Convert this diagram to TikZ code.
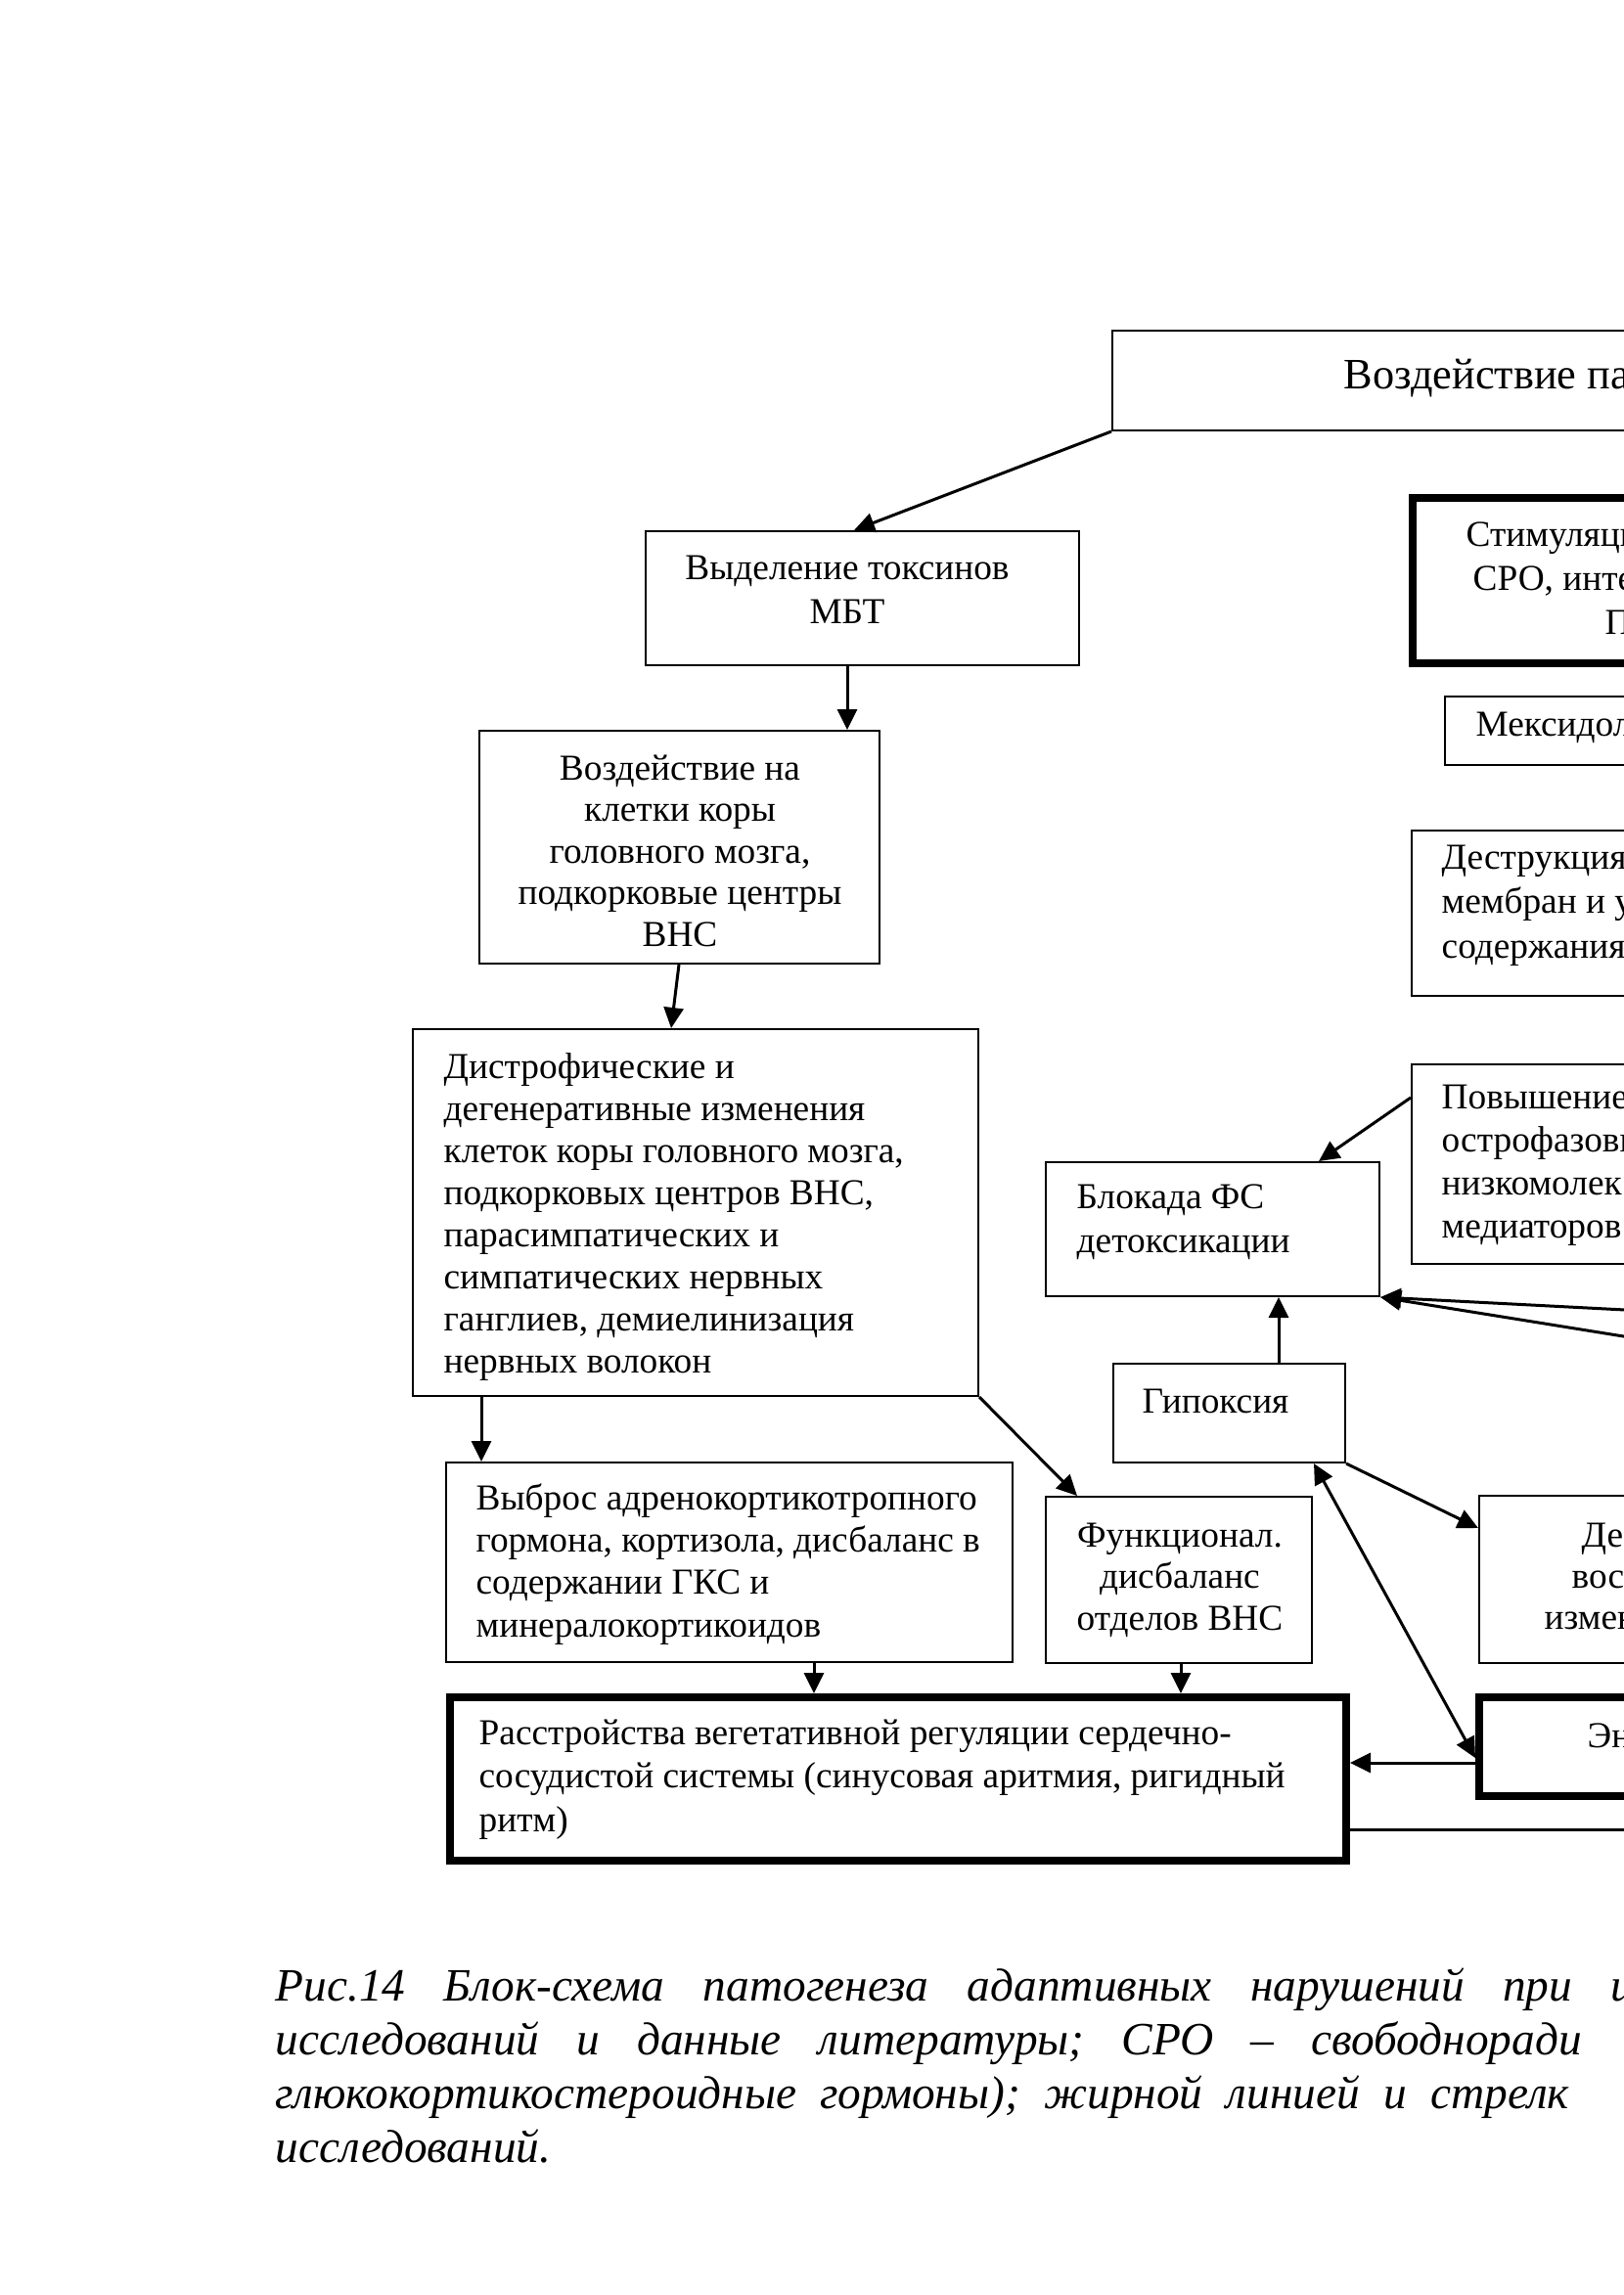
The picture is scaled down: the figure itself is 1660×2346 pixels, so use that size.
\documentclass[tikz,border=0pt]{standalone}
\usepackage{fontspec}
\setmainfont{Liberation Serif}
\usetikzlibrary{arrows.meta,fit,calc}
\begin{document}
\begin{tikzpicture}[x=0.3pt,y=-0.3pt,
  box/.style={draw,line width=0.6pt,inner sep=0pt,rectangle},
  thickbox/.style={draw,line width=2.4pt,inner sep=0pt,rectangle},
  arr/.style={-{Triangle[length=6.3pt,width=6pt]},line width=0.9pt},
  darr/.style={{Triangle[length=6.3pt,width=6pt]}-{Triangle[length=6.3pt,width=6pt]},line width=0.9pt},
  plain/.style={line width=0.9pt},
  txt/.style={font=\fontsize{11.2}{12.9}\selectfont,inner sep=0pt,anchor=base west,align=left},
  ctxt/.style={font=\fontsize{11.2}{12.75}\selectfont,inner sep=0pt,anchor=base,align=center},
  captxt/.style={font=\fontsize{14.2}{16}\selectfont\itshape,inner sep=0pt,anchor=base west}]
\useasboundingbox (0,0) rectangle (1660,2346);
\fill[white] (0,0) rectangle (1660,2346);
\clip (0,0) rectangle (1660,2346);

% boxes
\node[box,fit={(1137,338) (1720,440)}] (top) {};
\node[box,fit={(660,543) (1103,680)}] (vydel) {};
\node[box,fit={(490,747) (899,985)}] (vozd) {};
\node[box,fit={(422,1052) (1000,1427)}] (distr) {};
\node[box,fit={(456,1495) (1035,1699)}] (vybros) {};
\node[box,fit={(1069,1530) (1341,1700)}] (funk) {};
\node[thickbox,fit={(460,1735) (1376,1902)}] (rasstr) {};
\node[thickbox,fit={(1444,509) (1720,678)}] (stim) {};
\node[box,fit={(1477,712) (1720,782)}] (meks) {};
\node[box,fit={(1443,849) (1720,1018)}] (destr) {};
\node[box,fit={(1443,1088) (1720,1292)}] (povysh) {};
\node[box,fit={(1069,1188) (1410,1325)}] (blok) {};
\node[box,fit={(1138,1394) (1375,1495)}] (gipox) {};
\node[box,fit={(1512,1529) (1720,1700)}] (de) {};
\node[thickbox,fit={(1512,1735) (1720,1836)}] (en) {};

% texts (multi-line nodes are placed by the baseline of their last line)
\node[txt,font=\fontsize{13.3}{15}\selectfont] (topT) at (1373,397) {Воздействие па};
\node[ctxt,font=\fontsize{11.2}{13.5}\selectfont] (vydelT) at (866,637) {Выделение токсинов\\МБТ};
\node[ctxt] (vozdT) at (695,967) {Воздействие на\\клетки коры\\головного мозга,\\подкорковые центры\\ВНС};
\node[txt] (distrT) at (453,1403) {Дистрофические и\\дегенеративные изменения\\клеток коры головного мозга,\\подкорковых центров ВНС,\\парасимпатических и\\симпатических нервных\\ганглиев, демиелинизация\\нервных волокон};
\node[txt,font=\fontsize{11.2}{13}\selectfont] (vybrosT) at (486,1673) {Выброс адренокортикотропного\\гормона, кортизола, дисбаланс в\\содержании ГКС и\\минералокортикоидов};
\node[ctxt] (funkT) at (1206,1666) {Функционал.\\дисбаланс\\отделов ВНС};
\node[txt,font=\fontsize{11.2}{13.35}\selectfont] (rasstrT) at (489,1872) {Расстройства вегетативной регуляции сердечно-\\сосудистой системы (синусовая аритмия, ригидный\\ритм)};
\node[txt] (stimA) at (1498,558) {Стимуляци};
\node[txt] (stimB) at (1505,603) {СРО, инте};
\node[txt] (stimC) at (1640,648) {П};
\node[txt] (meksT) at (1508,752) {Мексидол};
\node[txt,font=\fontsize{11.2}{13.65}\selectfont] (destrT) at (1473,979) {Деструкция\\мембран и у\\содержания};
\node[txt,font=\fontsize{11.2}{13.2}\selectfont] (povyshT) at (1473,1265) {Повышение\\острофазовы\\низкомолек\\медиаторов};
\node[txt,font=\fontsize{11.2}{13.5}\selectfont] (blokT) at (1100,1280) {Блокада ФС\\детоксикации};
\node[txt] (gipoxT) at (1167,1444) {Гипоксия};
\node[txt] (deA) at (1616,1581) {Де};
\node[txt] (deB) at (1606,1623) {вос};
\node[txt] (deC) at (1578,1665) {измен};
\node[txt] (enT) at (1622,1786) {Эн};

% connectors
\draw[arr] (top.south west) -- (873,0 |- vydel.north);
\draw[arr] (866,0 |- vydel.south) -- (866,0 |- vozd.north);
\draw[arr] (694,0 |- vozd.south) -- (686,0 |- distr.north);
\draw[arr] (492,0 |- distr.south) -- (492,0 |- vybros.north);
\draw[arr] (distr.south east) -- (1101,0 |- funk.north);
\draw[arr] (832,0 |- vybros.south) -- (832,0 |- rasstr.north);
\draw[arr] (1207,0 |- funk.south) -- (1207,0 |- rasstr.north);
\draw[arr] (povysh.west |- 0,1122) -- (1348,0 |- blok.north);
\draw[arr] (1307,0 |- gipox.north) -- (1307,0 |- blok.south);
\coordinate (j1) at (1700,1341);
\coordinate (j2) at (1700,1372.5);
\draw[arr] (j1) -- (blok.south east);
\draw[arr] (j2) -- (blok.south east);
\draw[arr] (gipox.south east) -- (de.west |- 0,1562);
\draw[darr] (1343,0 |- gipox.south) -- (en.west |- 0,1797);
\draw[arr] (en.west |- 0,1802) -- (rasstr.east |- 0,1802);
\coordinate (n1) at (1700,1870);
\draw[plain] (rasstr.east |- 0,1870) -- (n1);

% caption (justified lines, cut at the right edge)
\node[captxt] (capA) at (281,2045) {\hbox to 409.5pt{Рис.14\hfill Блок-схема\hfill патогенеза\hfill адаптивных\hfill нарушений\hfill при\hfill}и};
\node[captxt] (capB) at (281,2100) {\hbox to 317.7pt{исследований\hfill и\hfill данные\hfill литературы;\hfill СРО\hfill –\hfill}свободноради};
\node[captxt] (capC) at (281,2155) {\hbox to 354.3pt{глюкокортикостероидные\hfill гормоны);\hfill жирной\hfill линией\hfill и\hfill}стрелк};
\node[captxt] (capD) at (281,2210) {исследований.};
\end{tikzpicture}
\end{document}
